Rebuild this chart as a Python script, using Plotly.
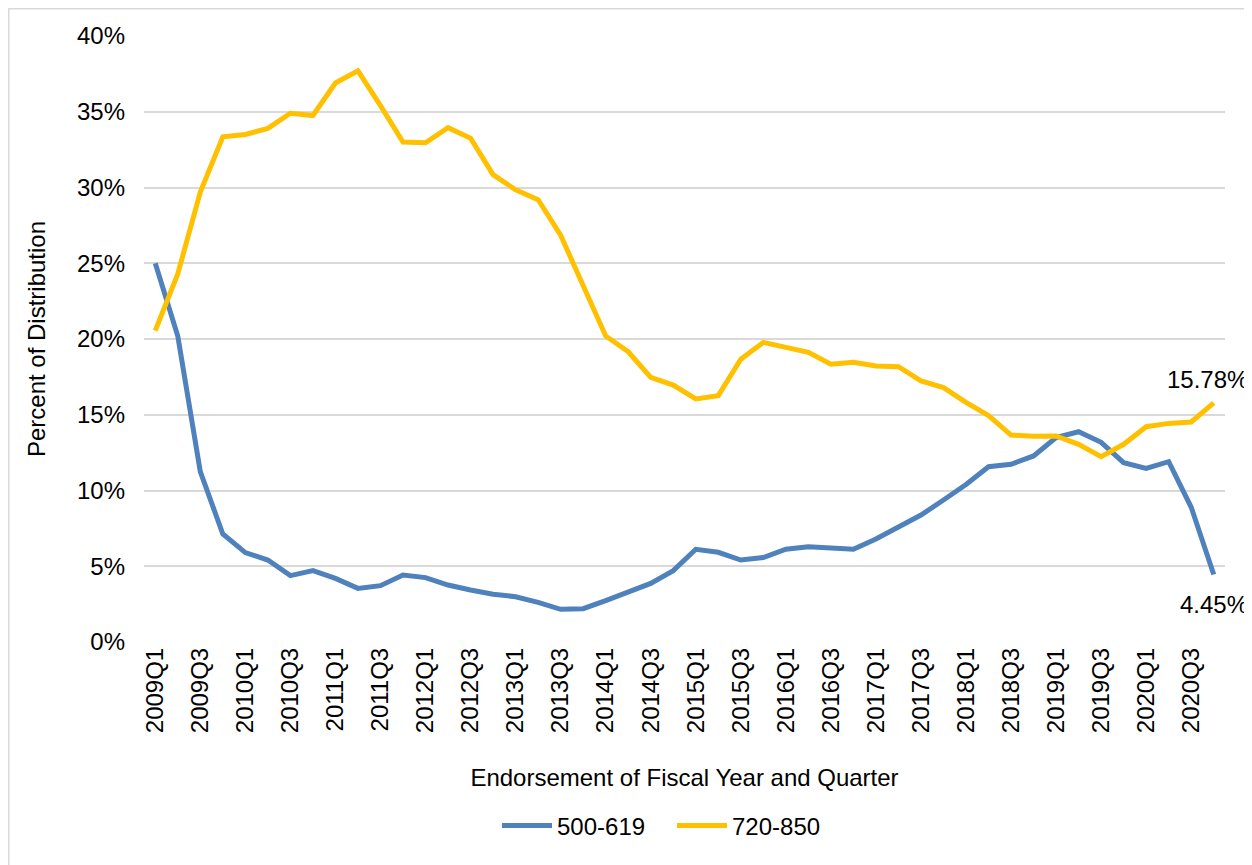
import plotly.graph_objects as go

quarters = [f"{y}Q{q}" for y in range(2009, 2021) for q in range(1, 5)]

low_500_619 = [25.0, 20.2, 11.24, 7.13, 5.9, 5.41, 4.38, 4.71, 4.2, 3.54,
               3.72, 4.42, 4.25, 3.76, 3.43, 3.15, 2.99, 2.62, 2.16, 2.2,
               2.73, 3.32, 3.87, 4.71, 6.12, 5.92, 5.41, 5.57, 6.12, 6.29,
               6.18, 6.12, 6.8, 7.55, 8.38, 9.37, 10.4, 11.57, 11.73, 12.28,
               13.49, 13.88, 13.18, 11.84, 11.46, 11.9, 8.89, 4.45]

high_720_850 = [20.55, 24.3, 29.7, 33.35, 33.5, 33.9, 34.9, 34.75, 36.9, 37.7,
                35.4, 33.0, 32.95, 33.95, 33.25, 30.85, 29.85, 29.2, 26.85, 23.5,
                20.2, 19.16, 17.47, 16.96, 16.04, 16.26, 18.66, 19.78, 19.49, 19.12,
                18.33, 18.46, 18.22, 18.17, 17.23, 16.79, 15.82, 14.94, 13.66, 13.58,
                13.6, 13.05, 12.23, 13.05, 14.21, 14.43, 14.52, 15.78]

tick_labels = quarters[::2]

FONT = "Liberation Sans, Arial, sans-serif"
BLUE = "#4f81bd"
GOLD = "#ffc000"

# figure sits at an 8px page offset; plot area spans page x 144-1225, y 36-642
W, H = 1244, 857
L, R, T, B = 136, 27, 28, 223
PW, PH = W - L - R, H - T - B

fig = go.Figure()
fig.add_trace(go.Scatter(x=quarters, y=[v / 100 for v in low_500_619], mode="lines",
                         name="500-619", line=dict(color=BLUE, width=5)))
fig.add_trace(go.Scatter(x=quarters, y=[v / 100 for v in high_720_850], mode="lines",
                         name="720-850", line=dict(color=GOLD, width=5)))

fig.add_annotation(x=quarters[-1], y=high_720_850[-1] / 100, text=f"{high_720_850[-1]:.2f}%",
                   showarrow=False, xanchor="center", yanchor="bottom", yshift=8, xshift=-6,
                   font=dict(family=FONT, size=24, color="#000"))
fig.add_annotation(x=quarters[-1], y=low_500_619[-1] / 100, text=f"{low_500_619[-1]:.2f}%",
                   showarrow=False, xanchor="center", yanchor="top", yshift=-14, xshift=0,
                   font=dict(family=FONT, size=24, color="#000"))

# chart-area border (top and left visible)
fig.add_shape(type="rect", xref="paper", yref="paper",
              x0=(0.75 - L) / PW, x1=(W + 10 - L) / PW,
              y0=-(B + 10) / PH, y1=(PH + T - 0.75) / PH,
              line=dict(color="#d9d9d9", width=1.5), fillcolor="rgba(0,0,0,0)", layer="below")

fig.update_layout(
    width=W, height=H,
    margin=dict(l=L, r=R, t=T, b=B, autoexpand=False),
    paper_bgcolor="white", plot_bgcolor="white",
    font=dict(family=FONT, size=24, color="#000"),
    showlegend=True,
    legend=dict(orientation="h", x=(664 - L) / PW, xanchor="center",
                y=-(826 - 8 - (T + PH)) / PH, yanchor="middle",
                font=dict(family=FONT, size=24, color="#000"),
                itemwidth=50, entrywidth=110, traceorder="normal"),
    xaxis=dict(type="category", range=[-0.5, 47.5], tickmode="array",
               tickvals=tick_labels, ticktext=tick_labels, tickangle=-90,
               showgrid=False, showline=False, zeroline=False, ticks="",
               tickfont=dict(family=FONT, size=24, color="#000"),
               title=dict(text="Endorsement of Fiscal Year and Quarter",
                          font=dict(family=FONT, size=24, color="#000"), standoff=36)),
    yaxis=dict(range=[0, 0.40], dtick=0.05, tickformat=".0%", showgrid=True,
               gridcolor="#d9d9d9", gridwidth=1.5, zeroline=False, showline=False, ticks="",
               ticklabelstandoff=18,
               tickfont=dict(family=FONT, size=24, color="#000"),
               title=dict(text="Percent of Distribution",
                          font=dict(family=FONT, size=24, color="#000"), standoff=24)),
)

fig.write_html("out.html")
